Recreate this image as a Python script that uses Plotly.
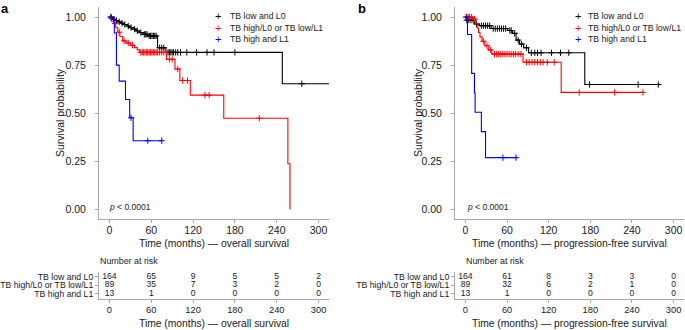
import numpy as np
import plotly.graph_objects as go

W, H = 685, 330

# ---------------- data ----------------
group_names = ["TB low and L0", "TB high/L0 or TB low/L1", "TB high and L1"]
group_colors = ["#000000", "#FF0000", "#0000FF"]

# Overall survival (panel a)
black_os_t = [0, 2, 5, 8, 12, 16, 20, 25, 29, 33, 38, 43, 48, 55, 69, 81, 248, 320]
black_os_s = [1.0, 0.994, 0.988, 0.982, 0.975, 0.968, 0.961, 0.953, 0.945, 0.937, 0.928,
              0.919, 0.910, 0.902, 0.84, 0.816, 0.653, 0.653]
black_os_cens = [3, 6, 10, 14, 18, 22, 27, 31, 36, 40, 45, 50, 52, 54, 57, 59, 61, 63, 65, 67,
                 72, 75, 78, 84, 86, 88, 90, 92, 95, 98, 102, 111, 125, 140, 150, 180, 276]

red_os_t = [0, 3, 6, 9, 12, 15, 19, 24, 30, 36, 40, 43, 82, 94, 101, 116, 164, 256, 259]
red_os_s = [1.0, 0.978, 0.966, 0.944, 0.921, 0.899, 0.876, 0.865, 0.853, 0.841, 0.829,
            0.816, 0.78, 0.73, 0.67, 0.594, 0.474, 0.237, 0.0]
red_os_cens = [2, 8, 14, 21, 27, 33, 45, 47, 49, 51, 53, 55, 57, 59, 61, 63, 65, 67, 69, 72,
               75, 78, 86, 90, 98, 105, 112, 137, 143, 215]

blue_os_t = [0, 7, 10, 14, 23, 29, 34, 75]
blue_os_s = [1.0, 0.917, 0.75, 0.667, 0.571, 0.476, 0.357, 0.357]
blue_os_cens = [2, 31, 55, 75]

# Progression-free survival (panel b)
black_pfs_t = [0, 1, 13, 20, 37, 61, 68, 73, 78, 84, 91, 172, 278]
black_pfs_s = [1.0, 0.984, 0.964, 0.955, 0.94, 0.93, 0.915, 0.88, 0.859, 0.84, 0.814, 0.649, 0.649]
black_pfs_cens = [2, 5, 8, 11, 16, 23, 26, 29, 32, 35, 40, 43, 46, 49, 52, 55, 58, 64, 66, 71,
                  76, 81, 88, 95, 100, 104, 109, 124, 137, 149, 179, 249, 278]

red_pfs_t = [0, 10, 15, 17, 19, 21, 24, 28, 33, 38, 83, 138, 256]
red_pfs_s = [1.0, 0.989, 0.966, 0.943, 0.92, 0.897, 0.874, 0.851, 0.829, 0.807, 0.765, 0.608, 0.608]
red_pfs_cens = [2, 4, 6, 9, 13, 26, 31, 36, 42, 45, 48, 51, 54, 57, 60, 63, 66, 69, 72, 76, 80,
                88, 92, 96, 100, 104, 108, 112, 118, 128, 164, 215, 256]

blue_pfs_t = [0, 3, 9, 13, 14, 23, 29, 73]
blue_pfs_s = [1.0, 0.909, 0.707, 0.606, 0.505, 0.404, 0.269, 0.269]
blue_pfs_cens = [1, 54, 73]

# Number at risk
risk_times = [0, 60, 120, 180, 240, 300]
os_risk_black = [164, 65, 9, 5, 5, 2]
os_risk_red = [89, 35, 7, 3, 2, 0]
os_risk_blue = [13, 1, 0, 0, 0, 0]
pfs_risk_black = [164, 61, 8, 3, 3, 0]
pfs_risk_red = [89, 32, 6, 2, 1, 0]
pfs_risk_blue = [13, 1, 0, 0, 0, 0]

x_ticks = [0, 60, 120, 180, 240, 300]
y_ticks = [0, 0.25, 0.5, 0.75, 1.0]
y_ticktext = ["0.00", "0.25", "0.50", "0.75", "1.00"]

# ---------------- helpers ----------------
FONT = "Liberation Sans, Arial, Helvetica, sans-serif"
AXC = "#A8A8A8"
TXT = "#1a1a1a"


def px(x):
    return x / W


def py(y):
    return 1 - y / H


def step_at(ts, ss, t):
    ts = np.asarray(ts, float)
    idx = np.searchsorted(ts, np.asarray(t, float), side="right") - 1
    return np.asarray(ss, float)[np.clip(idx, 0, len(ss) - 1)]


fig = go.Figure()

panels = [
    dict(xa="x", ya="y", curves=[(black_os_t, black_os_s, black_os_cens),
                                 (red_os_t, red_os_s, red_os_cens),
                                 (blue_os_t, blue_os_s, blue_os_cens)],
         rx="x2", ry="y2", risk=[os_risk_black, os_risk_red, os_risk_blue]),
    dict(xa="x3", ya="y3", curves=[(black_pfs_t, black_pfs_s, black_pfs_cens),
                                   (red_pfs_t, red_pfs_s, red_pfs_cens),
                                   (blue_pfs_t, blue_pfs_s, blue_pfs_cens)],
         rx="x4", ry="y4", risk=[pfs_risk_black, pfs_risk_red, pfs_risk_blue]),
]

for p in panels:
    for (t, s, c), col in zip(p["curves"], group_colors):
        fig.add_trace(go.Scatter(x=t, y=s, mode="lines", line=dict(color=col, width=1.1, shape="hv"),
                                 xaxis=p["xa"], yaxis=p["ya"], showlegend=False, hoverinfo="skip"))
        fig.add_trace(go.Scatter(x=c, y=step_at(t, s, c), mode="markers",
                                 marker=dict(symbol="cross-thin", size=4.5, line=dict(color=col, width=1)),
                                 xaxis=p["xa"], yaxis=p["ya"], showlegend=False, hoverinfo="skip",
                                 cliponaxis=False))
    for row, vals in enumerate(p["risk"], start=1):
        fig.add_trace(go.Scatter(x=risk_times, y=[row] * len(risk_times), mode="text",
                                 text=[str(v) for v in vals],
                                 textfont=dict(family=FONT, size=8.6, color=TXT),
                                 xaxis=p["rx"], yaxis=p["ry"], showlegend=False, hoverinfo="skip",
                                 cliponaxis=False))

main_y = [py(219), py(7.4)]
risk_y = [py(299), py(271.5)]
left_x = [px(99), px(329)]
right_x = [px(455), px(684)]

common_x = dict(range=[-15, 315], tickvals=x_ticks, showline=True, linecolor=AXC, linewidth=1,
                ticks="outside", ticklen=3, tickcolor=AXC, showgrid=False, zeroline=False,
                tickfont=dict(family=FONT, size=10.5, color=TXT), fixedrange=True,
                ticklabelstandoff=-2)
common_y = dict(range=[-0.05, 1.05], tickvals=y_ticks, ticktext=y_ticktext, showline=True,
                linecolor=AXC, linewidth=1, ticks="outside", ticklen=3, tickcolor=AXC,
                showgrid=False, zeroline=False, tickfont=dict(family=FONT, size=10.5, color=TXT),
                ticklabelstandoff=7)
risk_x = dict(common_x, tickfont=dict(family=FONT, size=9.3, color=TXT), ticklabelstandoff=-1)
risk_yax = dict(range=[3.6, 0.4], tickvals=[1, 2, 3], ticktext=group_names, showline=True,
                linecolor=AXC, linewidth=1, ticks="outside", ticklen=3, tickcolor=AXC,
                showgrid=False, zeroline=False, tickfont=dict(family=FONT, size=8.7, color=TXT))

fig.update_layout(
    width=W, height=H, margin=dict(l=0, r=0, t=0, b=0),
    paper_bgcolor="white", plot_bgcolor="white", showlegend=False,
    xaxis=dict(common_x, domain=left_x, anchor="y"),
    yaxis=dict(common_y, domain=main_y, anchor="x"),
    xaxis2=dict(risk_x, domain=left_x, anchor="y2"),
    yaxis2=dict(risk_yax, domain=risk_y, anchor="x2"),
    xaxis3=dict(common_x, domain=right_x, anchor="y3"),
    yaxis3=dict(common_y, domain=main_y, anchor="x3"),
    xaxis4=dict(risk_x, domain=right_x, anchor="y4"),
    yaxis4=dict(risk_yax, domain=risk_y, anchor="x4"),
)

ann = []


def text(x, y, s, size, xanchor="center", color=TXT, angle=0, bold=False):
    ann.append(dict(x=px(x), y=py(y), xref="paper", yref="paper", text=("<b>%s</b>" % s) if bold else s,
                    showarrow=False, xanchor=xanchor, yanchor="middle", textangle=angle,
                    font=dict(family=FONT, size=size, color=color)))


for cx, title, lab, lx in [(214, "Time (months) \u2014 overall survival", "a", 5),
                           (569.5, "Time (months) \u2014 progression-free survival", "b", 362)]:
    text(cx, 243, title, 10.3)
    text(cx, 323, title, 10.3)
    text(lx, 8, lab, 13, xanchor="center", color="#000", bold=True)

text(60, 113, "Survival probability", 10.5, angle=-90)
text(418, 113, "Survival probability", 10.5, angle=-90)

# p-values
text(107, 207, "<i>p</i> < 0.0001", 8.5, xanchor="left")
text(465, 207, "<i>p</i> < 0.0001", 8.5, xanchor="left")

# Number at risk titles
text(98, 261, "Number at risk", 8.9, xanchor="left")
text(464, 261, "Number at risk", 8.9, xanchor="left")

# legends
for sx in [(218, 228), (578, 586)]:
    for i, (nm, col) in enumerate(zip(group_names, group_colors)):
        yy = [16, 27.5, 39][i]
        text(sx[0], yy, "+", 11, color=col)
        text(sx[1], yy, nm, 8.7, xanchor="left")

fig.update_layout(annotations=ann)
fig.write_html("out.html", config={"displayModeBar": False, "staticPlot": True},
               post_script="document.body.style.margin='0';document.body.style.overflow='hidden';")
